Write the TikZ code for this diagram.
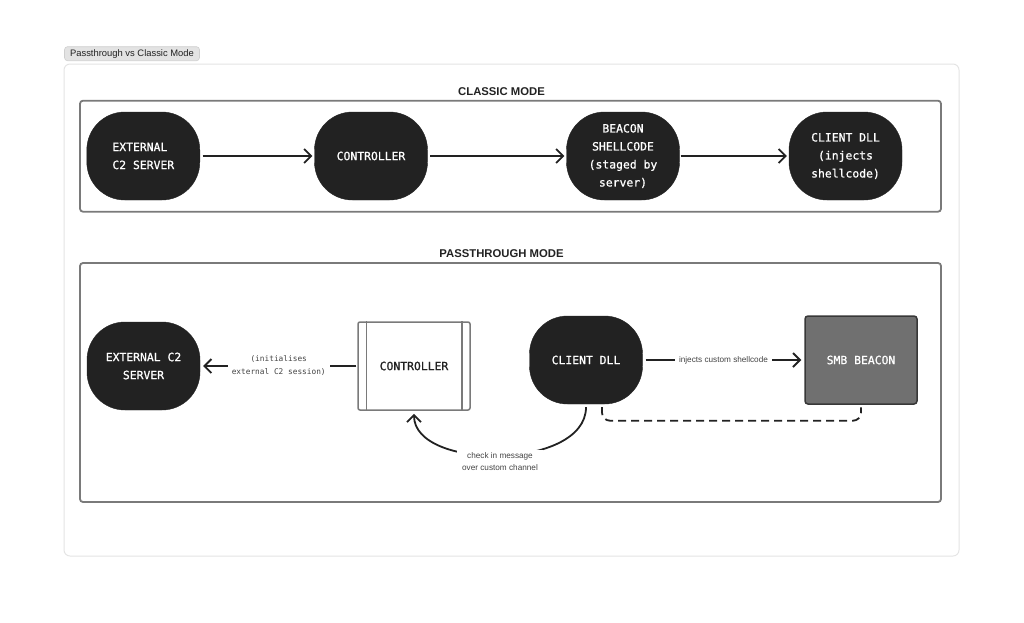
\documentclass[tikz,border=0pt]{standalone}
\usepackage{fontspec}
\setmainfont{Liberation Sans}
\newfontfamily\monofont[FakeBold=0.8]{DejaVu Sans Mono}
\newfontfamily\monolight{DejaVu Sans Mono}
\usetikzlibrary{arrows.meta}
\definecolor{nodeblack}{HTML}{222222}
\definecolor{boxgray}{HTML}{7A7A7A}
\definecolor{smbfill}{HTML}{707070}
\definecolor{smbdraw}{HTML}{383838}
\definecolor{panelgray}{HTML}{E4E4E4}
\definecolor{tagfill}{HTML}{E3E3E3}
\definecolor{tagdraw}{HTML}{CFCFCF}
\definecolor{labelgray}{HTML}{444444}
\tikzset{
  blob/.style={rectangle, rounded corners=38pt, fill=nodeblack, draw=nodeblack,
    text=white, minimum width=113pt, minimum height=88pt, inner sep=0pt,
    font=\monofont\fontsize{11.4}{18}\selectfont, align=center},
  modebox/.style={draw=boxgray, line width=1.8pt, rounded corners=3pt},
  modetitle/.style={font=\bfseries\fontsize{11.3}{13}\selectfont, text=nodeblack},
  conn/.style={draw=nodeblack, line width=1.8pt,
    -{Straight Barb[length=7pt,width=14pt]}},
  lbl/.style={fill=white, inner sep=2pt, text=labelgray, align=center},
}
\begin{document}
\begin{tikzpicture}[x=1pt,y=-1pt]
\useasboundingbox (0,0) rectangle (1024,622);
% outer panel
\draw[draw=panelgray, line width=1pt, rounded corners=6pt] (64,64) rectangle (959,556);
\node[fill=tagfill, draw=tagdraw, line width=0.6pt, rounded corners=3pt,
  minimum width=135pt, minimum height=14pt, inner sep=0pt,
  font=\fontsize{9.4}{11}\selectfont, text=nodeblack] (tag) at (132,53.7) {Passthrough vs Classic Mode};

% classic mode
\draw[modebox] (80,100.7) rectangle (941,211.7);
\node[modetitle] (ctitle) at (501.5,92) {CLASSIC MODE};
\node[blob, align=left] (ext1) at (143.3,156) {EXTERNAL\\C2 SERVER};
\node[blob] (ctl1) at (371,156) {CONTROLLER};
\node[blob] (bea1) at (623,156) {BEACON\\SHELLCODE\\(staged by\\server)};
\node[blob] (cli1) at (845.5,156) {CLIENT DLL\\(injects\\shellcode)};
\draw[conn, shorten <=2.5pt, shorten >=2pt] (ext1) -- (ctl1);
\draw[conn, shorten <=2.5pt, shorten >=2pt] (ctl1) -- (bea1);
\draw[conn, shorten <=1pt, shorten >=2pt] (bea1) -- (cli1);

% passthrough mode
\draw[modebox] (80,263) rectangle (941,502);
\node[modetitle] (ptitle) at (501.5,254) {PASSTHROUGH MODE};
\node[blob] (ext2) at (143.5,366) {EXTERNAL C2\\SERVER};
\node[rectangle, draw=boxgray, fill=white, line width=1.5pt, rounded corners=2pt,
  minimum width=112pt, minimum height=88pt, inner sep=0pt,
  font=\monofont\fontsize{11.4}{18}\selectfont, text=nodeblack] (ctl2) at (414,366) {CONTROLLER};
\draw[draw=boxgray, line width=1.5pt] ([xshift=9pt]ctl2.north west) -- ([xshift=9pt]ctl2.south west);
\draw[draw=boxgray, line width=1.5pt] ([xshift=-9pt]ctl2.north east) -- ([xshift=-9pt]ctl2.south east);
\node[blob] (cli2) at (586,360) {CLIENT DLL};
\node[rectangle, fill=smbfill, draw=smbdraw, line width=1.5pt, rounded corners=3pt,
  minimum width=112pt, minimum height=88pt, inner sep=0pt, text=white,
  font=\monofont\fontsize{11.4}{18}\selectfont] (smb) at (861,360) {SMB BEACON};

\draw[conn, shorten <=1pt, shorten >=3pt] (ctl2) -- node[lbl, inner xsep=4pt, font=\monolight\fontsize{7.8}{13}\selectfont] (initlbl) {(initialises\\external C2 session)} (ext2);
\draw[conn, shorten <=3pt, shorten >=3pt] (cli2) -- node[lbl, inner xsep=4pt, font=\fontsize{8.2}{10}\selectfont] (injlbl) {injects custom shellcode} (smb);
\draw[draw=nodeblack, line width=1.8pt, dash pattern=on 8pt off 5pt, rounded corners=8pt]
  ([xshift=16pt,yshift=-3pt]cli2.south) -- ++(0,13.5) -| ([yshift=-2.5pt]smb.south);
\draw[conn] ([yshift=-3pt]cli2.south) .. controls +(0,63) and +(0,57) .. ([yshift=-3pt]ctl2.south)
  node[pos=0.5, lbl, yshift=-6pt, inner xsep=5pt, font=\fontsize{8.2}{12.5}\selectfont] (chklbl) {check in message\\over custom channel};
\end{tikzpicture}
\end{document}
